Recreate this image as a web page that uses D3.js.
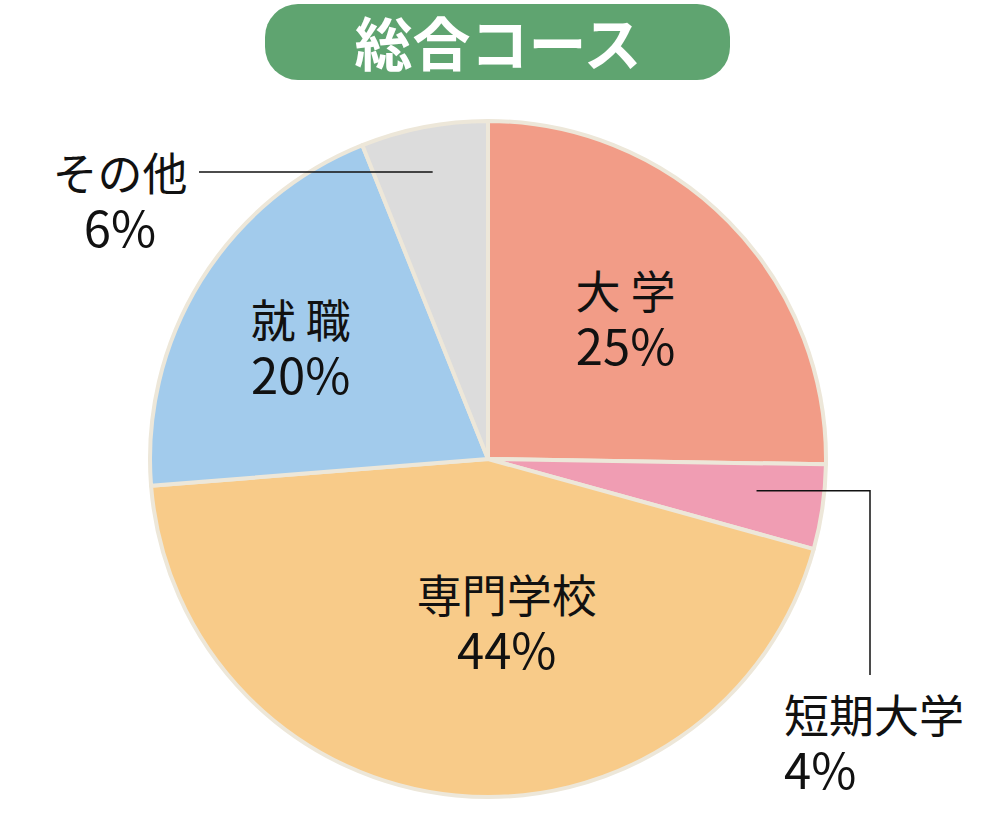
<!DOCTYPE html>
<html lang="ja">
<head>
<meta charset="utf-8">
<script src="https://cdn.jsdelivr.net/npm/d3@7"></script>
<style>
  html, body { margin: 0; padding: 0; background: #fff; }
  svg { display: block; font-family: "Noto Sans CJK JP", "Noto Sans", sans-serif; }
</style>
</head>
<body>
<script>
// data
const categories = ['大学', '短期大学', '専門学校', '就職', 'その他'];
const labelNames = ['大 学', '短期大学', '専門学校', '就 職', 'その他'];
const values = [25, 4, 44, 20, 6];
const title = '総合コース';

const colors = {
  '大学': '#f29c87',
  '短期大学': '#f09db3',
  '専門学校': '#f8cb89',
  '就職': '#a2cbec',
  'その他': '#dcdcdc'
};

// label placement (offsets from the label-arc centroid)
const inside = {
  '大学': [-7, -8],
  '専門学校': [38, -48],
  '就職': [-15, -14]
};

const w = 989, h = 827;
const cx = 488, cy = 459, r = 338;
const nameSize = 45, pctSize = 49;

const svg = d3.select('body').append('svg')
  .attr('width', w)
  .attr('height', h);

// title pill
svg.append('rect')
  .attr('x', 265).attr('y', 4)
  .attr('width', 465).attr('height', 76)
  .attr('rx', 33)
  .attr('fill', '#5fa470');
svg.append('text')
  .attr('x', 498).attr('y', 66)
  .attr('text-anchor', 'middle')
  .attr('font-size', 58)
  .attr('font-weight', 700)
  .attr('fill', '#fff')
  .text(title);

const data = categories.map(function(c, i) {
  return { name: c, label: labelNames[i], value: values[i] };
});

const pie = d3.pie().sort(null).value(function(d) { return d.value; });
const arcs = pie(data);

const arc = d3.arc().innerRadius(0).outerRadius(r);
const labelArc = d3.arc().innerRadius(r * 0.6).outerRadius(r * 0.6);

const g = svg.append('g').attr('transform', 'translate(' + cx + ',' + cy + ')');

g.selectAll('path')
  .data(arcs)
  .enter()
  .append('path')
  .attr('d', arc)
  .attr('fill', function(d) { return colors[d.data.name]; })
  .attr('stroke', '#ede7d9')
  .attr('stroke-width', 4)
  .attr('stroke-linejoin', 'round');

function polar(a, rad) {
  return [rad * Math.sin(a), -rad * Math.cos(a)];
}

function twoLines(parent, x, y, d, anchor) {
  parent.append('text')
    .attr('x', x).attr('y', y)
    .attr('text-anchor', anchor)
    .attr('font-size', nameSize)
    .attr('fill', '#111')
    .text(d.data.label);
  parent.append('text')
    .attr('x', x).attr('y', y + 56)
    .attr('text-anchor', anchor)
    .attr('font-size', pctSize)
    .attr('fill', '#111')
    .text(d.data.value + '%');
}

// labels inside slices
arcs.filter(function(d) { return inside[d.data.name]; }).forEach(function(d) {
  const c = labelArc.centroid(d);
  const off = inside[d.data.name];
  twoLines(g, c[0] + off[0], c[1] + off[1], d, 'middle');
});

// leader lines + outside labels
const other = arcs[4];
const pO = polar((other.startAngle + other.endAngle) / 2, r * 0.865);
g.append('path')
  .attr('d', 'M' + pO[0] + ',' + pO[1] + 'H' + (199 - cx))
  .attr('fill', 'none')
  .attr('stroke', '#111')
  .attr('stroke-width', 1.5);
twoLines(svg, 120, 191, other, 'middle');

const tan = arcs[1];
const pT = polar((tan.startAngle + tan.endAngle) / 2 - 0.025, r * 0.8);
g.append('path')
  .attr('d', 'M' + pT[0] + ',' + pT[1] + 'H' + (870 - cx) + 'V' + (675 - cy))
  .attr('fill', 'none')
  .attr('stroke', '#111')
  .attr('stroke-width', 1.5);
twoLines(svg, 784, 733, tan, 'start');
</script>
</body>
</html>
